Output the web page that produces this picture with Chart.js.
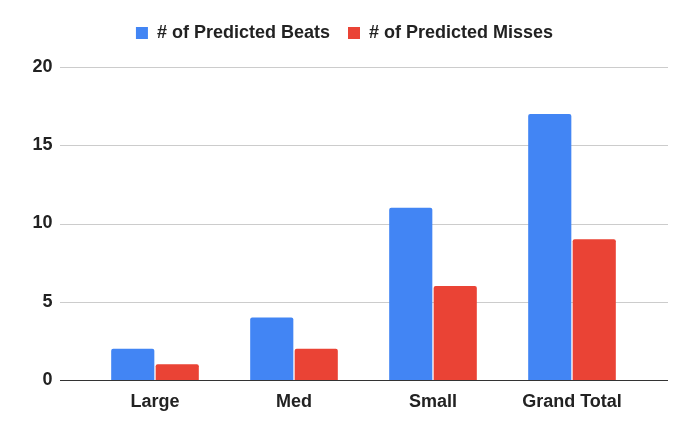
<!DOCTYPE html>
<html>
<head>
<meta charset="utf-8">
<script src="https://cdn.jsdelivr.net/npm/chart.js@4"></script>
<style>
html,body{margin:0;padding:0;background:#fff;}
#wrap{width:689px;height:432px;}
</style>
</head>
<body>
<div id="wrap"><canvas id="c" width="689" height="432"></canvas></div>
<script>
const categories = ["Large", "Med", "Small", "Grand Total"];
const predictedBeats = [2, 4, 11, 17];
const predictedMisses = [1, 2, 6, 9];
const yTicks = [0, 5, 10, 15, 20];

const gridPlugin = {
  id: 'extGrid',
  beforeDatasetsDraw(chart) {
    const ctx = chart.ctx, y = chart.scales.y;
    ctx.save();
    ctx.lineWidth = 1;
    ctx.strokeStyle = '#cccccc';
    yTicks.forEach(v => {
      if (v === 0) return;
      const py = Math.round(y.getPixelForValue(v)) + 0.5;
      ctx.beginPath(); ctx.moveTo(60, py); ctx.lineTo(668, py); ctx.stroke();
    });
    ctx.restore();
  },
  afterDatasetsDraw(chart) {
    const ctx = chart.ctx, y = chart.scales.y;
    ctx.save();
    ctx.lineWidth = 1;
    ctx.strokeStyle = '#333333';
    const py = Math.round(y.getPixelForValue(0)) + 0.5;
    ctx.beginPath(); ctx.moveTo(60, py); ctx.lineTo(668, py); ctx.stroke();
    ctx.restore();
  }
};

const font = { family: '"Liberation Sans", Arial, sans-serif', size: 18, weight: 'bold' };

new Chart(document.getElementById('c'), {
  type: 'bar',
  data: {
    labels: categories,
    datasets: [
      { label: '# of Predicted Beats', data: predictedBeats, backgroundColor: '#4285F4', borderRadius: 2, borderSkipped: 'bottom' },
      { label: '# of Predicted Misses', data: predictedMisses, backgroundColor: '#EA4335', borderRadius: 2, borderSkipped: 'bottom' }
    ]
  },
  plugins: [gridPlugin],
  options: {
    responsive: false,
    animation: false,
    devicePixelRatio: 1,
    layout: { padding: { top: 6, right: 0, left: 0, bottom: 0 } },
    plugins: {
      legend: {
        position: 'top',
        labels: { boxWidth: 12, boxHeight: 12, padding: 18, color: '#222222', font: font }
      },
      subtitle: {
        display: true,
        text: '',
        weight: 500,
        padding: 0,
        font: { size: 12.5 }
      },
      tooltip: { enabled: false }
    },
    datasets: { bar: { categoryPercentage: 0.64, barPercentage: 0.97 } },
    scales: {
      x: {
        grid: { display: false },
        border: { display: false },
        ticks: { color: '#222222', font: font, padding: 3 },
        afterFit(s) { s.height = 52; }
      },
      y: {
        min: 0, max: 20,
        grid: { display: false },
        border: { display: false },
        ticks: { stepSize: 5, color: '#222222', font: font, padding: 25 },
        afterFit(s) { s.width = 85.5; }
      },
      y2: {
        position: 'right',
        min: 0, max: 20,
        grid: { display: false },
        border: { display: false },
        ticks: { display: false },
        afterFit(s) { s.width = 47.5; }
      }
    }
  }
});
</script>
</body>
</html>
